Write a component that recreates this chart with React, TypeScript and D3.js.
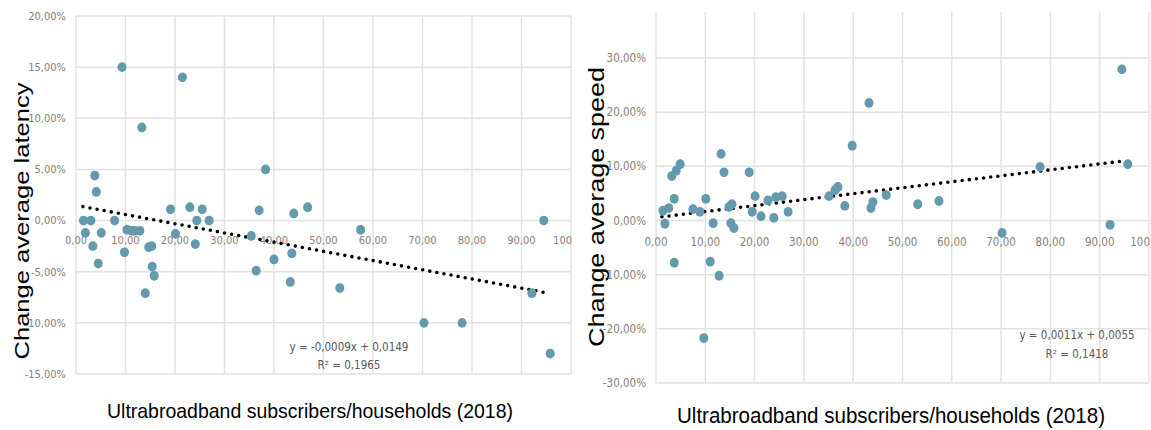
import React from 'react';
import * as d3 from 'd3';

// left panel: change of average latency (%)
const latencyX = [1.5, 1.9, 3.0, 3.8, 4.1, 3.4, 4.5, 5.1, 7.8, 9.3, 9.8, 10.3, 11.3, 11.9, 12.9, 13.3, 14.0, 14.7, 15.3, 15.4, 15.8, 19.1, 20.1, 21.5, 23.0, 24.1, 24.4, 25.5, 26.9, 35.4, 36.4, 37.0, 38.3, 40.0, 43.3, 43.6, 44.0, 46.8, 53.3, 57.5, 70.3, 78.0, 92.1, 94.5, 95.8];
const latencyY = [0, -1.2, 0, 4.4, 2.8, -2.5, -4.2, -1.2, 0, 15.0, -3.1, -0.9, -1.0, -1.0, -1.0, 9.1, -7.1, -2.6, -2.5, -4.5, -5.4, 1.1, -1.3, 14.0, 1.3, -2.3, 0, 1.1, 0, -1.5, -4.9, 1.0, 5.0, -3.8, -6.0, -3.2, 0.7, 1.3, -6.6, -0.9, -10.0, -10.0, -7.1, 0, -13.0];
const latencyTicks = [-15, -10, -5, 0, 5, 10, 15, 20];
const latencyTrend = [-0.0009, 0.0149];
const latencyTrendSpan = [1.4, 95.5];
const latencyEquation = ['y = -0,0009x + 0,0149', 'R² = 0,1965'];

// right panel: change of average speed (%)
const speedX = [1.4, 1.8, 2.6, 3.2, 3.7, 3.7, 4.1, 4.9, 7.5, 8.9, 9.7, 10.1, 11.0, 11.6, 12.8, 13.2, 13.8, 14.8, 15.2, 15.4, 15.8, 18.9, 19.5, 20.1, 21.3, 22.7, 23.9, 24.3, 25.6, 26.8, 35.1, 36.3, 36.9, 38.3, 39.8, 43.2, 43.6, 44.0, 46.7, 53.1, 57.4, 70.2, 77.9, 92.1, 94.5, 95.7];
const speedY = [1.8, -0.6, 2.3, 8.2, 4.0, -7.8, 9.2, 10.4, 2.1, 1.6, -21.7, 4.0, -7.6, -0.5, -10.2, 12.3, 8.9, 2.5, -0.5, 3.0, -1.4, 8.9, 1.6, 4.5, 0.8, 3.7, 0.5, 4.3, 4.5, 1.6, 4.5, 5.6, 6.2, 2.7, 13.8, 21.7, 2.3, 3.4, 4.7, 3.0, 3.6, -2.3, 9.9, -0.8, 27.9, 10.4];
const speedTicks = [-30, -20, -10, 0, 10, 20, 30];
const speedTrend = [0.0011, 0.0055];
const speedTrendSpan = [1.2, 95.3];
const speedEquation = ['y = 0,0011x + 0,0055', 'R² = 0,1418'];

const xTicks = [0, 10, 20, 30, 40, 50, 60, 70, 80, 90, 100];
const xTitle = 'Ultrabroadband  subscribers/households  (2018)';

const locale = d3.formatLocale({ decimal: ',', thousands: '.', grouping: [3], currency: ['', ' €'], minus: '-' });
const fmt2 = locale.format('.2f');
// the last x label is shown cut to "100" in the original
const xLabel = (t) => (t === 100 ? '100' : fmt2(t));

const dotColor = '#639aae';
const gridColor = '#e2e2e2';
const tickColor = '#8a8075';
const tickFont = "'Liberation Sans Narrow', 'DejaVu Sans Condensed', sans-serif";
const titleFont = "'Liberation Sans', Arial, sans-serif";

const Panel = ({ xs, ys, yTicks, trend, span, equation, geo, yTitle }) => {
  const x = d3.scaleLinear().domain([0, 100]).range([geo.left, geo.right]);
  const y = d3.scaleLinear().domain(geo.yDomain).range([geo.bottom, geo.yTopPx]);
  const points = xs.map((v, i) => [v, ys[i]]);
  const trendLine = d3.line()
    .x((d) => x(d))
    .y((d) => y((trend[0] * d + trend[1]) * 100));
  const zero = y(0);

  return (
    <g clipPath={`url(#${geo.id})`}>
      <defs>
        <clipPath id={geo.id}>
          <rect x={geo.clipLeft} y={0} width={geo.clipRight - geo.clipLeft} height={430} />
        </clipPath>
      </defs>
      {/* grid */}
      {yTicks.map((t) => (
        <line key={'h' + t} x1={geo.left} x2={geo.right} y1={y(t)} y2={y(t)} stroke={gridColor} strokeWidth={1.5} />
      ))}
      {xTicks.map((t) => (
        <line key={'v' + t} x1={x(t)} x2={x(t)} y1={geo.gridTop} y2={geo.bottom} stroke={gridColor} strokeWidth={1.5} />
      ))}
      {/* y tick labels */}
      {yTicks.map((t) => (
        <text key={'yl' + t} x={geo.left - 10} y={y(t)} dy="0.35em" textAnchor="end"
          fontFamily={tickFont} fontSize={geo.tickSize} fill={tickColor}>
          {fmt2(t) + '%'}
        </text>
      ))}
      {/* x tick labels sit just under the zero line */}
      {xTicks.map((t) => (
        <text key={'xl' + t} x={t === 100 ? x(t) + 1 : x(t)} y={zero + geo.xLabelOffset} dy="0.35em"
          textAnchor={t === 100 ? 'end' : 'middle'}
          fontFamily={tickFont} fontSize={geo.tickSize} fill={tickColor}>
          {xLabel(t)}
        </text>
      ))}
      {/* trend */}
      <path d={trendLine(span)} fill="none" stroke="#000" strokeWidth={3.6}
        strokeLinecap="round" strokeDasharray="0 7.2" />
      {/* points */}
      {points.map((p, i) => (
        <ellipse key={i} cx={x(p[0])} cy={y(p[1])} rx={4.5} ry={4.9} fill={dotColor} />
      ))}
      {/* equation */}
      {equation.map((s, i) => (
        <text key={s} x={geo.eqX} y={geo.eqY + i * geo.eqGap} dy="0.35em" textAnchor="middle"
          fontFamily={tickFont} fontSize={11.5} fill="#595959">
          {s}
        </text>
      ))}
      {/* axis titles */}
      <text x={geo.xTitleX} y={geo.xTitleY} textAnchor="middle" fontFamily={titleFont}
        fontSize={geo.titleSize} textLength={geo.xTitleLen} lengthAdjust="spacingAndGlyphs" fill="#000">
        {xTitle}
      </text>
      <text transform={`translate(${geo.yTitleX},${geo.yTitleY}) rotate(-90)`} dy="0.35em" textAnchor="middle"
        fontFamily={titleFont} fontSize={geo.titleSize} textLength={geo.yTitleLen}
        lengthAdjust="spacingAndGlyphs" fill="#000">
        {yTitle}
      </text>
    </g>
  );
};

const leftGeo = {
  id: 'clipLeft', clipLeft: 0, clipRight: 574,
  left: 76, right: 571, bottom: 374, yTopPx: 16, gridTop: 16, yDomain: [-15, 20],
  tickSize: 11, xLabelOffset: 20,
  eqX: 349, eqY: 347, eqGap: 18,
  xTitleX: 310, xTitleY: 418, xTitleLen: 406, titleSize: 21,
  yTitleX: 22, yTitleY: 221, yTitleLen: 277,
};

const rightGeo = {
  id: 'clipRight', clipLeft: 576, clipRight: 1151,
  left: 656, right: 1149, bottom: 383, yTopPx: 58, gridTop: 12, yDomain: [-30, 30],
  tickSize: 11.5, xLabelOffset: 21,
  eqX: 1077, eqY: 335, eqGap: 19,
  xTitleX: 891, xTitleY: 423, xTitleLen: 428, titleSize: 22,
  yTitleX: 596, yTitleY: 207, yTitleLen: 280,
};

export default function App() {
  return (
    <svg width={1151} height={430} style={{ position: 'absolute', left: 0, top: 0, background: '#fff' }}>
      <rect width={1151} height={430} fill="#fff" />
      <Panel xs={latencyX} ys={latencyY} yTicks={latencyTicks} trend={latencyTrend} span={latencyTrendSpan}
        equation={latencyEquation} geo={leftGeo} yTitle="Change  average  latency" />
      <Panel xs={speedX} ys={speedY} yTicks={speedTicks} trend={speedTrend} span={speedTrendSpan}
        equation={speedEquation} geo={rightGeo} yTitle="Change  average  speed" />
    </svg>
  );
}
